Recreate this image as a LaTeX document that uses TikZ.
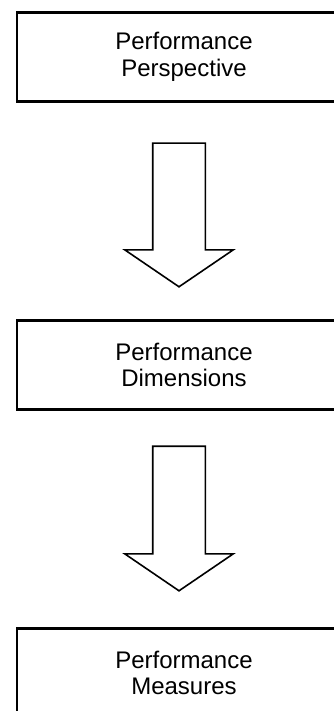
\documentclass[tikz,border=0pt]{standalone}
\usepackage{fontspec}
\setmainfont{Liberation Sans}
\usetikzlibrary{calc}

\tikzset{
    stage/.style={rectangle, draw, line width=2.4pt, minimum width=334pt, minimum height=89pt, inner sep=0pt, align=center, font=\fontsize{24}{26.5}\selectfont},
    blockarrow/.style={draw, line width=1.6pt, line join=miter, fill=white}
}

\begin{document}
\begin{tikzpicture}[x=1pt, y=-1pt]
    \useasboundingbox (0,0) rectangle (333,711);

    % Draw nodes
    \node[stage] (perspective) at (184,57) {Performance\\Perspective};
    \node[stage] (dimensions) at (184,365) {Performance\\Dimensions};
    \node[stage] (measures) at (184,673) {Performance\\Measures};

    % Arrow ends
    \coordinate (s1) at ($(perspective.south)+(-5,40.5)$);
    \coordinate (t1) at ($(dimensions.north)+(-5,-32.5)$);
    \coordinate (s2) at ($(dimensions.south)+(-5,35.5)$);
    \coordinate (t2) at ($(measures.north)+(-5,-36.5)$);

    % Draw arrows
    \draw[blockarrow] ($(s1)+(-26.3,0)$) -- ($(t1)+(-26.3,-37)$) -- ($(t1)+(-54.3,-37)$) -- (t1)
        -- ($(t1)+(54.3,-37)$) -- ($(t1)+(26.3,-37)$) -- ($(s1)+(26.3,0)$) -- cycle;
    \draw[blockarrow] ($(s2)+(-26.3,0)$) -- ($(t2)+(-26.3,-37)$) -- ($(t2)+(-54.3,-37)$) -- (t2)
        -- ($(t2)+(54.3,-37)$) -- ($(t2)+(26.3,-37)$) -- ($(s2)+(26.3,0)$) -- cycle;
\end{tikzpicture}
\end{document}
